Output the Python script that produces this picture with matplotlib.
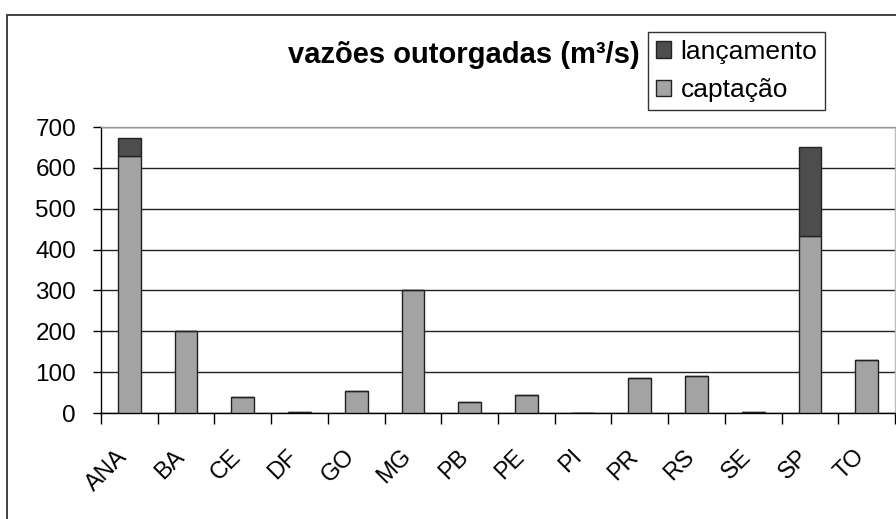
import matplotlib.pyplot as plt
from matplotlib.patches import Rectangle
from matplotlib.ticker import FixedLocator, NullFormatter
from matplotlib.transforms import ScaledTranslation
import numpy as np

plt.rcParams['font.family'] = ['Liberation Sans', 'DejaVu Sans']

# estados / entidades
estados = ['ANA', 'BA', 'CE', 'DF', 'GO', 'MG', 'PB', 'PE', 'PI', 'PR', 'RS', 'SE', 'SP', 'TO']
# vazões outorgadas (m³/s)
captacao = [628, 200, 38, 3, 53, 300, 26, 45, 0, 86, 91, 3, 434, 130]
lancamento = [45, 0, 0, 0, 0, 0, 0, 0, 0, 0, 0, 0, 218, 0]

fig = plt.figure(figsize=(8.96, 5.19), dpi=100)
fig.set_facecolor('white')

# moldura externa do grafico (estilo excel)
fig.patches.append(Rectangle((7 / 896, -0.05), 1.0, 1 - 15 / 519 + 0.05,
                             transform=fig.transFigure, fill=False,
                             edgecolor='#333333', linewidth=1.3))

ax = fig.add_axes([101 / 896, 1 - 413 / 519, 794 / 896, 286 / 519])

x = np.arange(len(estados))
ax.bar(x, captacao, width=0.4, color='#a3a3a3', edgecolor='#222222',
       linewidth=1.0, label='captação', zorder=3)
ax.bar(x, lancamento, width=0.4, bottom=captacao, color='#4d4d4d',
       edgecolor='#222222', linewidth=1.0, label='lançamento', zorder=3)

ax.set_xlim(-0.5, len(estados) - 0.5)
ax.set_ylim(0, 700)
ax.set_yticks(range(0, 701, 100))
ax.yaxis.grid(True, color='#222222', linewidth=1.0, zorder=0)
ax.tick_params(axis='y', labelsize=17.5, length=6, width=1.0, pad=12)

# ticks nas divisões, rótulos no centro das categorias
ax.xaxis.set_major_locator(FixedLocator(np.arange(-0.5, len(estados), 1.0)))
ax.xaxis.set_major_formatter(NullFormatter())
ax.set_xticks(x, minor=True)
ax.set_xticklabels(estados, minor=True, rotation=45, ha='right', va='center',
                   rotation_mode='anchor', fontsize=17)
ax.tick_params(axis='x', which='major', length=8, width=1.0)
ax.tick_params(axis='x', which='minor', length=0, pad=29)
shift = ScaledTranslation(-5 / 100, 0, fig.dpi_scale_trans)
for lbl in ax.xaxis.get_minorticklabels():
    lbl.set_transform(lbl.get_transform() + shift)

ax.spines['left'].set_color('black')
ax.spines['bottom'].set_color('black')
ax.spines['top'].set_color('#999999')
ax.spines['right'].set_color('#bbbbbb')
for s in ax.spines.values():
    s.set_linewidth(1.0)

fig.text(464 / 896, 1 - 63 / 519, 'vazões outorgadas (m³/s)', ha='center',
         va='baseline', fontsize=21, fontweight='bold')

handles, labels = ax.get_legend_handles_labels()
leg = fig.legend(handles[::-1], labels[::-1], loc='upper left',
                 bbox_to_anchor=(648 / 896, 1 - 32 / 519), fontsize=19,
                 frameon=True, fancybox=False, edgecolor='black',
                 handlelength=0.58, handleheight=0.58, handletextpad=0.35,
                 labelspacing=0.55, borderpad=0.3, borderaxespad=0)
leg.get_frame().set_linewidth(1.0)

plt.savefig('out.png', dpi=100, facecolor='white')
